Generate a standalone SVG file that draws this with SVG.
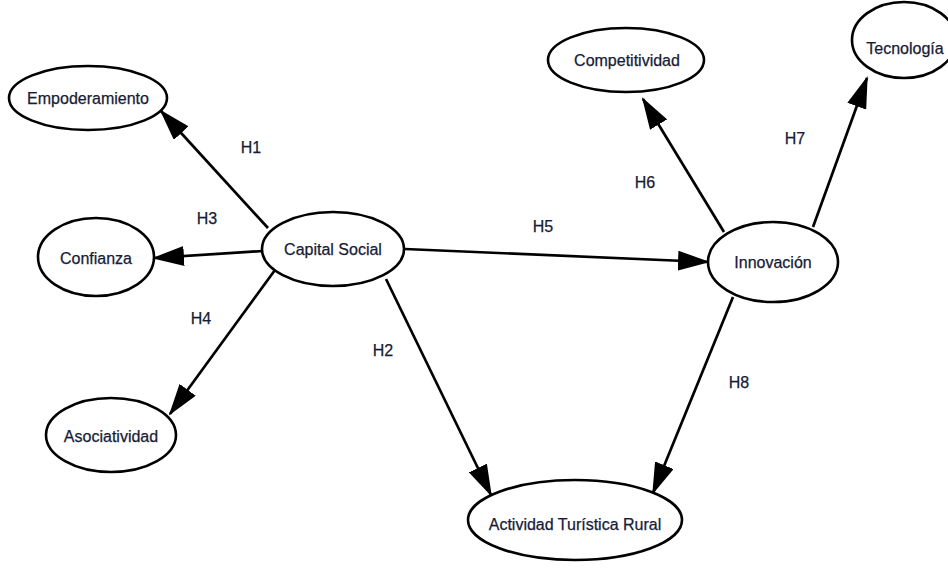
<svg xmlns="http://www.w3.org/2000/svg" width="948" height="569" viewBox="0 0 948 569">
  <style>
    .node ellipse { fill: #ffffff; stroke: #000000; stroke-width: 2.6; }
    .node text, .lbl { font-family: "Liberation Sans", Arial, sans-serif; font-size: 16px; fill: #161b36; stroke: #161b36; stroke-width: 0.25; text-anchor: middle; dominant-baseline: central; }
    .edge { stroke: #000000; stroke-width: 2.7; fill: none; marker-end: url(#arrow); }
  </style>
  <defs>
    <marker id="arrow" markerUnits="userSpaceOnUse" markerWidth="32" markerHeight="20" refX="30" refY="10" orient="auto">
      <path d="M0,0 L32,10 L0,20 Z" fill="#000000"/>
    </marker>
  </defs>
  <rect width="948" height="569" fill="#ffffff"/>

  <!-- connectors -->
  <g id="connectors">
    <line class="edge" x1="268" y1="228" x2="161" y2="111"/>
    <line class="edge" x1="263" y1="251" x2="154" y2="258"/>
    <line class="edge" x1="275" y1="270" x2="170" y2="414"/>
    <line class="edge" x1="386" y1="279" x2="491" y2="495"/>
    <line class="edge" x1="405" y1="249" x2="708" y2="262"/>
    <line class="edge" x1="724" y1="232" x2="643" y2="99"/>
    <line class="edge" x1="813" y1="227" x2="867" y2="78"/>
    <line class="edge" x1="733" y1="297" x2="653" y2="493"/>
  </g>

  <!-- hypothesis labels -->
  <g id="labels">
    <text class="lbl" x="251" y="147">H1</text>
    <text class="lbl" x="207" y="218">H3</text>
    <text class="lbl" x="201" y="318">H4</text>
    <text class="lbl" x="383" y="350">H2</text>
    <text class="lbl" x="543" y="226">H5</text>
    <text class="lbl" x="645" y="182">H6</text>
    <text class="lbl" x="795" y="138">H7</text>
    <text class="lbl" x="739" y="382">H8</text>
  </g>

  <!-- nodes -->
  <g id="empoderamiento" class="node">
    <ellipse cx="88" cy="98" rx="79" ry="32"/>
    <text x="88" y="98">Empoderamiento</text>
  </g>
  <g id="confianza" class="node">
    <ellipse cx="96" cy="257" rx="58" ry="39"/>
    <text x="96" y="258">Confianza</text>
  </g>
  <g id="asociatividad" class="node">
    <ellipse cx="111" cy="435" rx="65" ry="37"/>
    <text x="111" y="436">Asociatividad</text>
  </g>
  <g id="capital-social" class="node">
    <ellipse cx="333" cy="249" rx="71" ry="37"/>
    <text x="333" y="249">Capital Social</text>
  </g>
  <g id="competitividad" class="node">
    <ellipse cx="626" cy="60" rx="78" ry="32"/>
    <text x="627" y="60">Competitividad</text>
  </g>
  <g id="tecnologia" class="node">
    <ellipse cx="904" cy="40" rx="52" ry="38"/>
    <text x="905" y="48">Tecnología</text>
  </g>
  <g id="innovacion" class="node">
    <ellipse cx="773" cy="262" rx="65" ry="40"/>
    <text x="773" y="262">Innovación</text>
  </g>
  <g id="actividad-turistica-rural" class="node">
    <ellipse cx="575" cy="520" rx="107" ry="40"/>
    <text x="575" y="524">Actividad Turística Rural</text>
  </g>
</svg>
